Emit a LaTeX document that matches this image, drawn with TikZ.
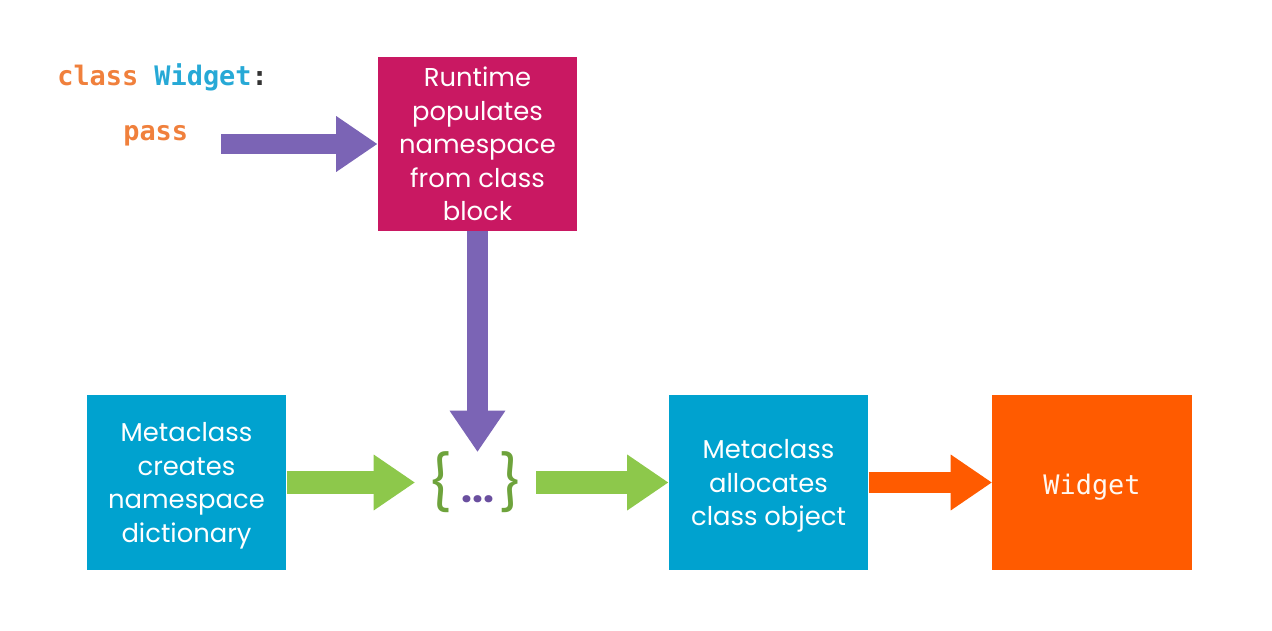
\documentclass[tikz,border=0pt]{standalone}
\usepackage{fontspec}
\setmainfont{Poppins}
\setmonofont{DejaVu Sans Mono}
\usetikzlibrary{positioning,arrows.meta}

\definecolor{runtimered}{HTML}{C91862}
\definecolor{metablue}{HTML}{00A2CF}
\definecolor{widgetorange}{HTML}{FF5B00}
\definecolor{arrowpurple}{HTML}{7B64B5}
\definecolor{arrowgreen}{HTML}{8DC84B}
\definecolor{bracegreen}{HTML}{6EA33C}
\definecolor{dotpurple}{HTML}{6A4F9F}
\definecolor{codeorange}{HTML}{F0803C}
\definecolor{codecyan}{HTML}{27A9D6}
\definecolor{codegray}{HTML}{333333}

\begin{document}
\begin{tikzpicture}
  [x=0.02cm,y=-0.02cm,
   every node/.style={align=center,text=white,font=\fontsize{14.7}{19}\selectfont},
   box/.style={rectangle,minimum width=4cm,minimum height=3.5cm,inner sep=0pt},
   lowered/.style={text depth=-1.5pt},
   code/.style={anchor=base west,inner sep=0pt,font=\ttfamily\bfseries\fontsize{15.3}{18}\selectfont},
   fatarrow/.style={line width=0.41cm,-{Triangle[length=0.82cm,width=1.12cm,line width=0pt]}}]

  \useasboundingbox (0,0) rectangle (1272,631);

  \node[code] (cls) at (57,86) {\textcolor{codeorange}{class} \textcolor{codecyan}{Widget}\textcolor{codegray}{:}};
  \node[code,text=codeorange] (pass) at (123,141) {pass};

  \node[box,fill=runtimered,minimum height=3.48cm] (runtime) at (477.5,144) {Runtime\\populates\\namespace\\from class\\block};
  \node[box,lowered,fill=metablue] (creates) at (186.5,482.5) {Metaclass\\creates\\namespace\\dictionary};
  \node[box,lowered,fill=metablue] (allocates) at (768.5,482.5) {Metaclass\\allocates\\class object};
  \node[box,fill=widgetorange,text=white!94!orange,execute at begin node={\rule{0pt}{17pt}}] (widget) at (1092,482.5) {\fontsize{15.3}{19}\ttfamily Widget};
  \node[inner sep=0pt,minimum width=2.42cm,minimum height=1cm] (dict) at (475.5,482.5)
    {{\fontsize{31}{31}\selectfont\color{bracegreen}\{}\hspace{5pt}{\fontsize{22}{22}\selectfont\bfseries\color{dotpurple}...}\hspace{2pt}{\fontsize{31}{31}\selectfont\color{bracegreen}\}}};

  \coordinate (passend) at (221,144);

  \draw[fatarrow,arrowpurple] (passend) -- (runtime);
  \draw[fatarrow,arrowpurple] (runtime) -- (runtime.south |- dict.north);
  \draw[fatarrow,arrowgreen,line width=0.46cm] (creates) -- (dict);
  \draw[fatarrow,arrowgreen,line width=0.46cm] (dict) -- (allocates);
  \draw[fatarrow,widgetorange] (allocates) -- (widget);
\end{tikzpicture}
\end{document}
